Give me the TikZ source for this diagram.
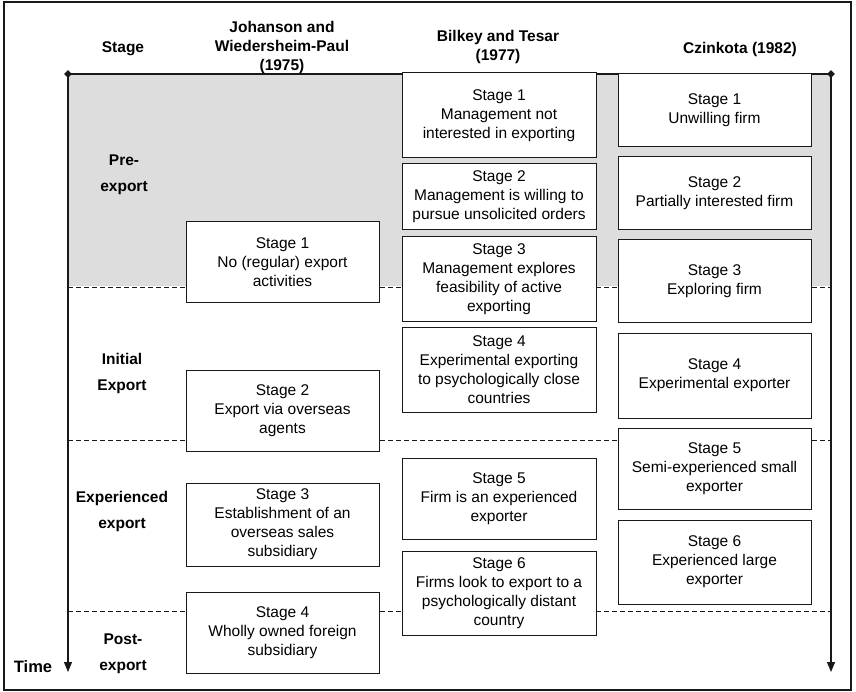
\documentclass[tikz,border=0pt]{standalone}
\usepackage{fontspec}
\setmainfont{Liberation Sans}
\usetikzlibrary{arrows.meta,shapes.geometric}
\definecolor{bandgray}{RGB}{221,221,221}
\definecolor{ink}{RGB}{25,25,25}
\begin{document}
\begin{tikzpicture}[x=1pt,y=-1pt,
  stagebox/.style={draw=ink, line width=1pt, fill=white, align=center, inner sep=0pt,
                   font=\fontsize{15.5}{19}\selectfont},
  head/.style={align=center, font=\bfseries\fontsize{15.5}{19}\selectfont},
  phase/.style={align=center, font=\bfseries\fontsize{15.5}{26}\selectfont},
  divider/.style={draw=ink, line width=0.9pt, dash pattern=on 5pt off 3pt},
  timeaxis/.style={draw=ink, line width=1.1pt, -{Triangle[length=10pt,width=8pt]}},
  marker/.style={diamond, fill=ink, inner sep=0pt, minimum size=8pt}]

\useasboundingbox (0,0) rectangle (856,692);

% frame
\draw[ink, line width=1.2pt] (4,2) rectangle (851,690);

% pre-export band
\fill[bandgray] (68,74) rectangle (831,286);

% axis end points
\coordinate (ltop) at (68,74);
\coordinate (lbot) at (68,672);
\coordinate (rtop) at (831,74);
\coordinate (rbot) at (831,672);

% phase dividers
\coordinate (d1l) at (68,287);  \coordinate (d1r) at (831,287);
\coordinate (d2l) at (68,440);  \coordinate (d2r) at (831,440);
\coordinate (d3l) at (68,611);  \coordinate (d3r) at (831,611);
\draw[divider] (d1l) -- (d1r);
\draw[divider] (d2l) -- (d2r);
\draw[divider] (d3l) -- (d3r);

% time axes
\draw[ink, line width=1.1pt] (ltop) -- (rtop);
\draw[timeaxis] (ltop) -- (lbot);
\draw[timeaxis] (rtop) -- (rbot);
\node[marker] (mleft) at (ltop) {};
\node[marker] (mright) at (rtop) {};

% column headings
\node[head] (hstage) at (123,49) {Stage};
\node[head] (hjw) at (282,47) {Johanson and\\Wiedersheim-Paul\\(1975)};
\node[head] (hbt) at (498,47) {Bilkey and Tesar\\(1977)};
\node[head] (hcz) at (740,49) {Czinkota (1982)};

% phases
\node[phase] (ppre) at (124,175) {Pre-\\export};
\node[phase] (pinit) at (122,373) {Initial\\Export};
\node[phase] (pexp) at (122,511) {Experienced\\export};
\node[phase] (ppost) at (123,654) {Post-\\export};
\node[head, font=\bfseries\fontsize{16.5}{19}\selectfont] (ptime) at (33,667) {Time};

% Johanson and Wiedersheim-Paul
\node[stagebox, minimum width=193pt, minimum height=81pt] (jw1) at (282.5,262.5)
  {Stage 1\\No (regular) export\\activities};
\node[stagebox, minimum width=193pt, minimum height=81pt] (jw2) at (282.5,410.5)
  {Stage 2\\Export via overseas\\agents};
\node[stagebox, minimum width=193pt, minimum height=83pt] (jw3) at (282.5,524.5)
  {Stage 3\\Establishment of an\\overseas sales\\subsidiary};
\node[stagebox, minimum width=193pt, minimum height=81pt] (jw4) at (282.5,632.5)
  {Stage 4\\Wholly owned foreign\\subsidiary};

% Bilkey and Tesar
\node[stagebox, minimum width=194pt, minimum height=85pt] (bt1) at (499,115.5)
  {Stage 1\\Management not\\interested in exporting};
\node[stagebox, minimum width=194pt, minimum height=66pt] (bt2) at (499,197)
  {Stage 2\\Management is willing to\\pursue unsolicited orders};
\node[stagebox, minimum width=194pt, minimum height=85pt] (bt3) at (499,279.5)
  {Stage 3\\Management explores\\feasibility of active\\exporting};
\node[stagebox, minimum width=194pt, minimum height=84pt] (bt4) at (499,370)
  {Stage 4\\Experimental exporting\\to psychologically close\\countries};
\node[stagebox, minimum width=194pt, minimum height=81pt] (bt5) at (499,498.5)
  {Stage 5\\Firm is an experienced\\exporter};
\node[stagebox, minimum width=194pt, minimum height=84pt] (bt6) at (499,593)
  {Stage 6\\Firms look to export to a\\psychologically distant\\country};

% Czinkota
\node[stagebox, minimum width=193pt, minimum height=73pt] (cz1) at (714.5,110.5)
  {Stage 1\\Unwilling firm};
\node[stagebox, minimum width=193pt, minimum height=73pt] (cz2) at (714.5,193.5)
  {Stage 2\\Partially interested firm};
\node[stagebox, minimum width=193pt, minimum height=83pt] (cz3) at (714.5,281.5)
  {Stage 3\\Exploring firm};
\node[stagebox, minimum width=193pt, minimum height=85pt] (cz4) at (714.5,375.5)
  {Stage 4\\Experimental exporter};
\node[stagebox, minimum width=193pt, minimum height=81pt] (cz5) at (714.5,468.5)
  {Stage 5\\Semi-experienced small\\exporter};
\node[stagebox, minimum width=193pt, minimum height=84pt] (cz6) at (714.5,562)
  {Stage 6\\Experienced large\\exporter};

\end{tikzpicture}
\end{document}
